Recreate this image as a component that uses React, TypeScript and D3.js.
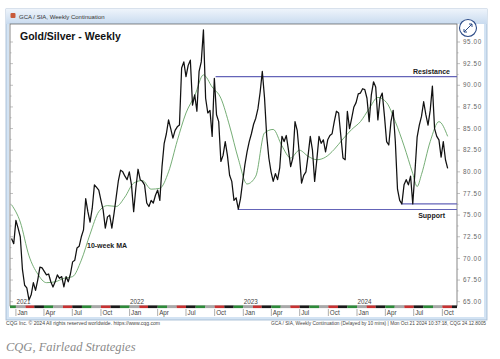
import * as d3 from 'd3';

// Weekly close of Gold/Silver ratio, first bar = week of 18 Dec 2020
const closes = [
  72.3, 71.7, 74.4, 73.5, 72.5, 68.7, 66.9, 66.6, 65.2, 65.8,
  67.2, 66.3, 67.5, 69.0, 68.9, 68.5, 68.1, 68.2, 67.3, 66.7,
  67.3, 68.1, 67.7, 67.9, 66.7, 67.9, 67.3, 68.2, 69.6, 69.8,
  71.2, 71.4, 72.5, 73.3, 76.9, 75.4, 74.2, 75.8, 78.5, 78.2,
  77.9, 76.7, 75.6, 73.5, 74.8, 75.0, 73.5, 75.2, 77.1, 79.0,
  80.2, 80.0, 79.5, 79.1, 80.0, 78.5, 75.4, 78.1, 80.3, 79.1,
  78.9, 78.5, 76.4, 76.0, 76.7, 76.4, 77.3, 77.9, 76.7, 80.6,
  83.3, 84.4, 86.0, 85.0, 83.9, 84.8, 85.2, 85.4, 92.0, 92.7,
  91.0, 92.3, 92.9, 87.7, 88.9, 87.0, 91.6, 92.7, 96.4, 88.5,
  86.8, 87.1, 84.1, 90.8, 86.6, 85.8, 81.2, 81.9, 83.5, 81.9,
  79.6, 78.9, 76.7, 77.0, 75.7, 76.9, 78.9, 80.8, 82.3, 83.5,
  84.4, 85.5, 86.2, 87.3, 89.2, 91.6, 88.6, 84.2, 81.6, 80.0,
  78.9, 79.8, 79.1, 80.5, 84.1, 83.5, 84.2, 82.5, 80.6, 81.6,
  85.8, 84.8, 82.0, 78.7, 79.6, 80.0, 81.9, 84.1, 82.5, 78.9,
  81.4, 84.1, 83.3, 83.7, 82.3, 83.7, 84.2, 84.4, 85.8, 87.0,
  86.8, 84.2, 81.6, 81.4, 87.0, 85.0, 86.2, 87.5, 88.0, 89.0,
  89.1, 89.6, 89.5, 88.5, 85.8, 88.9, 90.4, 89.8, 86.0, 88.5,
  89.1, 86.5, 83.5, 83.1, 85.8, 87.1, 83.5, 78.0, 76.7, 76.3,
  78.5, 79.1, 78.5, 79.5, 76.3, 80.0, 84.0, 85.4, 86.4, 88.1,
  86.6, 85.4, 87.1, 89.9, 85.0, 84.1, 83.7, 81.7, 83.5, 81.4,
  80.4,
];

// 10-week moving average (week offset from 1 Jan 2021)
const maWeeks = [
  -2, 2, 6, 10, 14, 18, 22, 26, 30, 34, 38, 42, 46, 50, 54, 58, 62, 66,
  70, 74, 78, 82, 86, 90, 94, 98, 102, 106, 110, 114, 118, 122, 126, 130,
  134, 138, 142, 146, 150, 154, 158, 162, 166, 170, 174, 178, 182, 184,
  186, 190, 194, 198,
];
const maValues = [
  76.2, 74.2, 70.3, 68.2, 67.2, 67.3, 67.7, 67.9, 69.8, 72.8, 75.4, 76.1,
  76.0, 77.1, 78.7, 79.0, 78.0, 78.1, 80.0, 83.6, 86.8, 88.8, 91.2, 89.8,
  88.5, 85.3, 81.5, 78.6, 79.5, 84.5, 84.9, 83.0, 81.6, 82.5, 81.8, 81.4,
  81.7, 82.6, 83.8, 84.9, 85.8, 87.3, 88.6, 88.0, 85.8, 83.0, 79.8, 78.3,
  79.7, 83.5, 85.8, 84.1,
];

// horizontal levels: value and the week they start
const levelNames = ['Resistance', 'Support', ''];
const levelValues = [91.0, 75.65, 76.3];
const levelStartWeeks = [91.7, 101.8, 176.6];

const yTicks = [65, 67.5, 70, 72.5, 75, 77.5, 80, 82.5, 85, 87.5, 90, 92.5, 95];
const bandColors = ['#2e8b3a', '#a8a8a8', '#c83232', '#1a1a1a'];

const jan2021 = new Date(2021, 0, 1);
const firstWeek = new Date(2020, 11, 18);

export default function App() {
  const W = 500;
  const H = 359;
  const plot = { left: 10, right: 457, top: 24, bottom: 306 };

  const x = d3.scaleTime()
    .domain([new Date(2020, 11, 13), new Date(2024, 10, 17)])
    .range([plot.left, plot.right]);
  const y = d3.scaleLinear().domain([65, 95]).range([301.7, 42]);

  const closeDates = closes.map((_, i) => d3.timeWeek.offset(firstWeek, i));
  const closeLine = d3.line<number>()
    .x((_, i) => x(closeDates[i]))
    .y((d) => y(d));

  const maLine = d3.line<number>()
    .x((_, i) => x(d3.timeDay.offset(jan2021, maWeeks[i] * 7)))
    .y((d) => y(d))
    .curve(d3.curveMonotoneX);

  const [d0, d1] = x.domain();
  const months = d3.timeMonth.range(d3.timeMonth.floor(d0), d1);
  const quarters = d3.timeMonth.every(3)!.range(d3.timeMonth.ceil(d0), d1);
  const minorY = d3.range(65, 96.25, 1.25);

  return (
    <svg
      width={W}
      height={H}
      style={{ position: 'fixed', left: 0, top: 0, background: '#fff' }}
      fontFamily="'Liberation Sans', Arial, sans-serif"
    >
      <defs>
        <linearGradient id="tb" x1="0" y1="0" x2="0" y2="1">
          <stop offset="0" stopColor="#eef4fb" />
          <stop offset="1" stopColor="#c9dbef" />
        </linearGradient>
        <clipPath id="pc">
          <rect x={plot.left} y={plot.top} width={plot.right - plot.left} height={plot.bottom - plot.top} />
        </clipPath>
      </defs>

      {/* window frame */}
      <rect x={6} y={9} width={481} height={311} fill="#d3e3f3" stroke="#9fb6cf" strokeWidth={0.8} />
      <rect x={6} y={9} width={481} height={15} fill="url(#tb)" />
      <rect x={9} y={24} width={475} height={293} fill="#fff" />
      <rect x={10.5} y={13} width={5} height={5} fill="#c85a3a" rx={1} />
      <text x={19} y={18.5} fontSize={6} fill="#333">GCA / SIA, Weekly Continuation</text>

      {/* plot border */}
      <rect x={plot.left} y={plot.top} width={plot.right - plot.left} height={plot.bottom - plot.top}
        fill="#fff" stroke="#555" strokeWidth={0.7} />

      {/* side ticks */}
      {minorY.map((v) => (
        <g key={v}>
          <line x1={plot.left} x2={plot.left + (v % 2.5 === 0 ? 3 : 1.5)} y1={y(v)} y2={y(v)} stroke="#999" strokeWidth={0.6} />
          <line x1={plot.right} x2={plot.right + (v % 2.5 === 0 ? 3 : 1.5)} y1={y(v)} y2={y(v)} stroke="#999" strokeWidth={0.6} />
        </g>
      ))}

      {/* right axis labels */}
      {yTicks.map((v) => (
        <text key={v} x={463} y={y(v) + 2.2} fontSize={6.3} fill="#666" letterSpacing={0.6}>
          {v.toFixed(2)}
        </text>
      ))}

      {/* expand icon */}
      <circle cx={468} cy={28} r={8.5} fill="#fff" stroke="#2b4a86" strokeWidth={1.1} />
      <path d="M464,32 L472,24 M469,24 L472,24 L472,27 M464,29 L464,32 L467,32" fill="none" stroke="#2b4a86" strokeWidth={1} />

      <g clipPath="url(#pc)">
        {/* resistance / support */}
        {levelValues.map((v, i) => (
          <line key={i} x1={x(d3.timeDay.offset(jan2021, levelStartWeeks[i] * 7))} x2={plot.right}
            y1={y(v)} y2={y(v)} stroke="#6464b8" strokeWidth={1.1} />
        ))}
        <path d={maLine(maValues) ?? ''} fill="none" stroke="#66a466" strokeWidth={0.9} />
        <path d={closeLine(closes) ?? ''} fill="none" stroke="#111" strokeWidth={1.25} strokeLinejoin="round" />
      </g>

      {/* level labels */}
      <text x={450} y={y(levelValues[0]) - 2.5} fontSize={7} fontWeight="bold" fill="#222" textAnchor="end">
        {levelNames[0]}
      </text>
      <text x={445} y={y(levelValues[1]) + 8} fontSize={7} fontWeight="bold" fill="#222" textAnchor="end">
        {levelNames[1]}
      </text>

      <text x={87} y={y(71.2)} fontSize={7} fontWeight="bold" fill="#222">10-week MA</text>

      <text x={20} y={39.5} fontSize={10.5} fontWeight="bold" fill="#111">Gold/Silver - Weekly</text>

      {/* time band */}
      {months.map((m, i) => (
        <rect key={+m} x={Math.max(plot.left, x(m))} y={305.5}
          width={Math.max(0, Math.min(plot.right, x(d3.timeMonth.offset(m, 1))) - Math.max(plot.left, x(m)))}
          height={2.6} fill={bandColors[i % bandColors.length]} />
      ))}
      {quarters.map((q) => (
        <g key={+q}>
          <line x1={x(q)} x2={x(q)} y1={309} y2={316} stroke="#777" strokeWidth={0.6} />
          <text x={x(q) + 1.5} y={315} fontSize={6.3} fill="#444">{d3.timeFormat('%b')(q)}</text>
          {q.getMonth() === 0 && (
            <text x={x(q) + 0.5} y={304} fontSize={6.3} fill="#444">{d3.timeFormat('%Y')(q)}</text>
          )}
        </g>
      ))}

      {/* footers */}
      <text x={6} y={324.5} fontSize={4.6} fill="#444" textLength={154} lengthAdjust="spacingAndGlyphs">
        CQG Inc. © 2024 All rights reserved worldwide. https://www.cqg.com
      </text>
      <text x={486} y={324.5} fontSize={4.6} fill="#444" textAnchor="end" textLength={215} lengthAdjust="spacingAndGlyphs">
        GCA / SIA, Weekly Continuation (Delayed by 10 mins) | Mon Oct 21 2024 10:37:18, CQG 24.12.8005
      </text>
      <text x={6} y={351} fontSize={12.5} fontStyle="italic" fill="#8a8a8a" fontFamily="'Liberation Serif', 'DejaVu Serif', serif">
        CQG, Fairlead Strategies
      </text>
    </svg>
  );
}
